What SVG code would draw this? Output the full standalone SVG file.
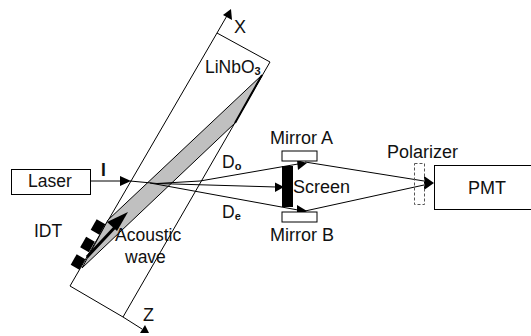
<svg xmlns="http://www.w3.org/2000/svg" width="531" height="336" viewBox="0 0 531 336">
<style>
text{font-family:"Liberation Sans",Arial,sans-serif;font-size:17.500px;fill:#111}
.w{font-size:18px}
.sub{font-size:11px;font-weight:bold}
.l{fill:none;stroke:#000;stroke-width:1}
.b{fill:#fff;stroke:#000;stroke-width:1}
.a{fill:#000;stroke:none}
</style>
<rect width="531" height="336" fill="#fff"/>
<g id="crystal">
<polygon class="l" points="217,33 270,62 123,317 70,286"/>
</g>
<g id="beam-area">
<polygon points="262,75 235,123 82,268 108,220" fill="#c0c0c0" stroke="#000" stroke-width="1"/>
<line x1="262" y1="75" x2="235" y2="123" stroke="#000" stroke-width="2"/>
</g>
<g id="idt">
<rect class="a" x="-6" y="-5" width="12" height="10" transform="translate(78 262) rotate(-60)"/>
<rect class="a" x="-6" y="-5" width="12" height="10" transform="translate(87.500 244.500) rotate(-60)"/>
<rect class="a" x="-6" y="-5" width="12" height="10" transform="translate(98 227) rotate(-60)"/>
</g>
<g id="connectors">
<line class="l" x1="217" y1="33" x2="228" y2="14"/>
<polygon class="a" points="231,9 232,20 223,15"/>
<line class="l" x1="123" y1="317" x2="142" y2="329"/>
<polygon class="a" points="149,333 140,333 145,325"/>
<line class="l" x1="90" y1="181" x2="122" y2="181"/>
<polygon class="a" points="131,181 120,176 120,186"/>
<polyline class="l" points="130,181 157,183.500 200,181 298,164"/>
<polygon class="a" points="307,163 297,160 298,170"/>
<line class="l" x1="157" y1="183.500" x2="276" y2="187"/>
<polygon class="a" points="284,187 275,182.500 275,192"/>
<line class="l" x1="150" y1="183" x2="298" y2="210"/>
<polygon class="a" points="307,211 297,205 297,216"/>
<line class="l" x1="305" y1="162" x2="424" y2="181"/>
<line class="l" x1="305" y1="211" x2="424" y2="185"/>
<polygon class="a" points="434,183 424,176 424,190"/>
<line x1="87" y1="257" x2="118" y2="224" stroke="#000" stroke-width="3"/>
<polygon class="a" points="128,212 107,222 117,231"/>
</g>
<g id="laser"><rect class="b" x="11.500" y="169.500" width="79" height="25"/><text x="28" y="187">Laser</text></g>
<g id="mirror-a"><rect class="b" x="282" y="151" width="35" height="10"/><text class="w" x="270" y="144">Mirror A</text></g>
<g id="screen"><rect class="a" x="282" y="166" width="11" height="41"/><text class="w" x="293" y="193">Screen</text></g>
<g id="mirror-b"><rect class="b" x="282" y="212" width="35" height="10"/><text class="w" x="270" y="241">Mirror B</text></g>
<g id="polarizer"><rect x="414.500" y="163.500" width="10" height="41" fill="none" stroke="#555" stroke-dasharray="3 2"/><text class="w" x="387" y="158">Polarizer</text></g>
<g id="pmt"><rect class="b" x="434.500" y="165.500" width="100" height="44"/><text class="w" x="468" y="194">PMT</text></g>
<g id="labels">
<text class="w" x="234" y="33">X</text>
<text class="w" x="143" y="321">Z</text>
<text x="205" y="73">LiNbO<tspan class="sub" dy="2">3</tspan></text>
<text x="34" y="237">IDT</text>
<text x="115" y="241">Acoustic</text>
<text x="125" y="263">wave</text>
<text x="101" y="176" font-weight="bold">I</text>
<text x="222" y="168">D<tspan class="sub" dy="2">o</tspan></text>
<text x="222" y="218">D<tspan class="sub" dy="2">e</tspan></text>
</g>
</svg>
